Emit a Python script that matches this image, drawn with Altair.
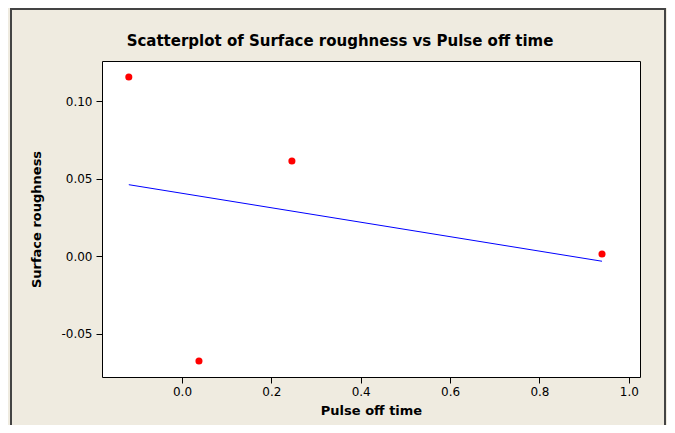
import altair as alt
import pandas as pd

pulse_off_time = [-0.119, 0.038, 0.246, 0.940]
surface_roughness = [0.1155, -0.0677, 0.0613, 0.0013]

x_ticks = [0.0, 0.2, 0.4, 0.6, 0.8, 1.0]
y_ticks = [-0.05, 0.0, 0.05, 0.10]

chart_title = "Scatterplot of Surface roughness vs Pulse off time"

df = pd.DataFrame({"Pulse off time": pulse_off_time, "Surface roughness": surface_roughness})

FONT = "DejaVu Sans"

xs = alt.Scale(domain=[-0.179, 1.025], nice=False, zero=False)
ys = alt.Scale(domain=[-0.078, 0.1258], nice=False, zero=False)

xax = alt.Axis(values=x_ticks, format=".1f", grid=False, domain=False, tickSize=6,
               tickColor="#000", labelColor="#000", labelFontSize=12, labelFont=FONT,
               titleFont=FONT, titleFontSize=13, titleFontWeight="bold", titleColor="#000",
               titlePadding=7, labelPadding=3)
yax = alt.Axis(values=y_ticks, labelExpr="replace(format(datum.value, '.2f'), '\u2212', '-')",
               grid=False, domain=False, tickSize=6,
               tickColor="#000", labelColor="#000", labelFontSize=12, labelFont=FONT,
               titleFont=FONT, titleFontSize=13, titleFontWeight="bold", titleColor="#000",
               titlePadding=17, labelPadding=4)

base = alt.Chart(df)

points = base.mark_circle(size=50, color="#ff0000", opacity=1).encode(
    x=alt.X("Pulse off time:Q", scale=xs, axis=xax),
    y=alt.Y("Surface roughness:Q", scale=ys, axis=yax),
)

fit = base.transform_regression("Pulse off time", "Surface roughness").mark_line(
    color="#0000ff", strokeWidth=1
).encode(
    x=alt.X("Pulse off time:Q", scale=xs),
    y=alt.Y("Surface roughness:Q", scale=ys),
)

frame = alt.Chart(pd.DataFrame({"a": [0]})).mark_rect(
    fill=None, stroke="#444444", strokeWidth=2
).encode(
    x=alt.value(-91), x2=alt.value(563), y=alt.value(-52), y2=alt.value(400)
)

title_text = alt.Chart(pd.DataFrame({"t": [chart_title]})).mark_text(
    font=FONT, fontSize=15, fontWeight="bold", color="#000",
    align="center", baseline="alphabetic",
).encode(
    x=alt.value(238), y=alt.value(-15), text="t:N"
)

chart = alt.layer(frame, fit, points, title_text).properties(
    width=538,
    height=316,
    padding={"left": 94, "top": 53, "right": 27, "bottom": 48},
    autosize=alt.AutoSizeParams(type="none"),
    background="#efebe0",
).configure_view(fill="#ffffff", stroke="#000000", strokeWidth=1)

chart.save("out.html", embed_options={"renderer": "svg", "actions": False})
